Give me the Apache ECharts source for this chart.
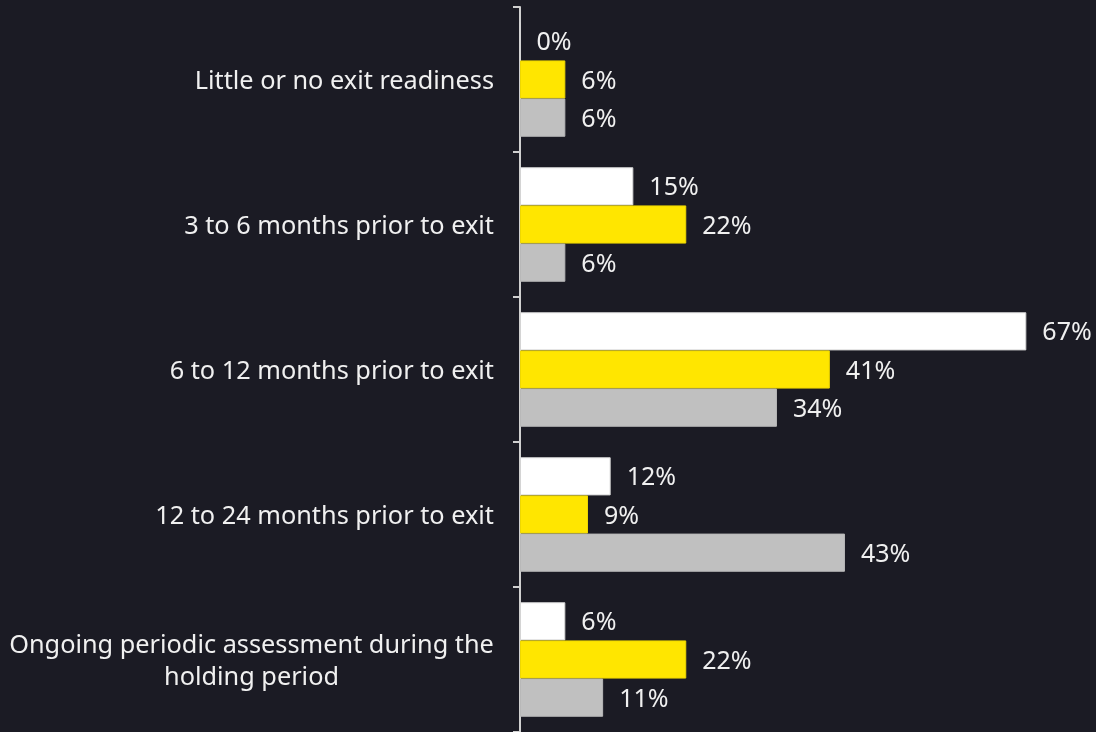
<!DOCTYPE html>
<html>
<head>
<meta charset="utf-8">
<script src="https://cdn.jsdelivr.net/npm/echarts@6/dist/echarts.min.js"></script>
<style>
  html, body { margin: 0; padding: 0; background: #1b1b24; }
  #chart { width: 1096px; height: 732px; }
</style>
</head>
<body>
<div id="chart"></div>
<script>
// Exit readiness timing, share of respondents per group
const categories = [
  'Little or no exit readiness',
  '3 to 6 months prior to exit',
  '6 to 12 months prior to exit',
  '12 to 24 months prior to exit',
  'Ongoing periodic assessment during the\nholding period'
];
const seriesWhite  = [0, 15, 67, 12, 6];
const seriesYellow = [6, 22, 41, 9, 22];
const seriesGray   = [6, 6, 34, 43, 11];

const FONT = '"Noto Sans", sans-serif';
const CAT_SIZE = 25.3;
const VAL_SIZE = 25;

// width of a line of label text, so multi-line labels can centre their lines
function textWidth(s) {
  const c = document.createElement('canvas').getContext('2d');
  c.font = CAT_SIZE + 'px ' + FONT;
  return Math.ceil(c.measureText(s).width);
}

const chart = echarts.init(document.getElementById('chart'), null, { renderer: 'canvas' });

function barSeries(name, data, color, border) {
  return {
    name: name,
    type: 'bar',
    data: data,
    barGap: '0%',
    barCategoryGap: '21%',
    itemStyle: { color: color, borderColor: border, borderWidth: 1 },
    label: {
      show: true,
      position: 'right',
      distance: 16,
      offset: [0, 2],
      formatter: '{c}%',
      color: '#f0f0f0',
      fontFamily: FONT,
      fontSize: VAL_SIZE
    }
  };
}

const lastLines = categories[4].split('\n');

chart.setOption({
  backgroundColor: '#1b1b24',
  animation: false,
  grid: {
    left: 520, right: 47, top: 7, bottom: 0,
    containLabel: false,
    outerBoundsMode: 'none'
  },
  xAxis: {
    type: 'value',
    min: 0,
    max: 70,
    show: false
  },
  yAxis: {
    type: 'category',
    inverse: true,
    data: categories,
    axisLine: { show: true, lineStyle: { color: '#d0d0d0', width: 2 } },
    axisTick: { show: true, length: 7, lineStyle: { color: '#d0d0d0', width: 2 } },
    axisLabel: {
      margin: 26,
      padding: [4, 0, 0, 0],
      color: '#f0f0f0',
      fontFamily: FONT,
      fontSize: CAT_SIZE,
      lineHeight: 32,
      formatter: function (v) {
        const lines = v.split('\n');
        if (lines.length === 1) return v;
        return lines.map(l => '{c|' + l + '}').join('\n');
      },
      rich: {
        c: {
          width: Math.max.apply(null, lastLines.map(textWidth)),
          align: 'center',
          color: '#f0f0f0',
          fontFamily: FONT,
          fontSize: CAT_SIZE,
          lineHeight: 32
        }
      }
    }
  },
  series: [
    barSeries('White', seriesWhite, '#ffffff', '#d4d4d4'),
    barSeries('Yellow', seriesYellow, '#ffe600', '#eed700'),
    barSeries('Gray', seriesGray, '#c0c0c0', '#b8b8b8')
  ]
});
</script>
</body>
</html>
